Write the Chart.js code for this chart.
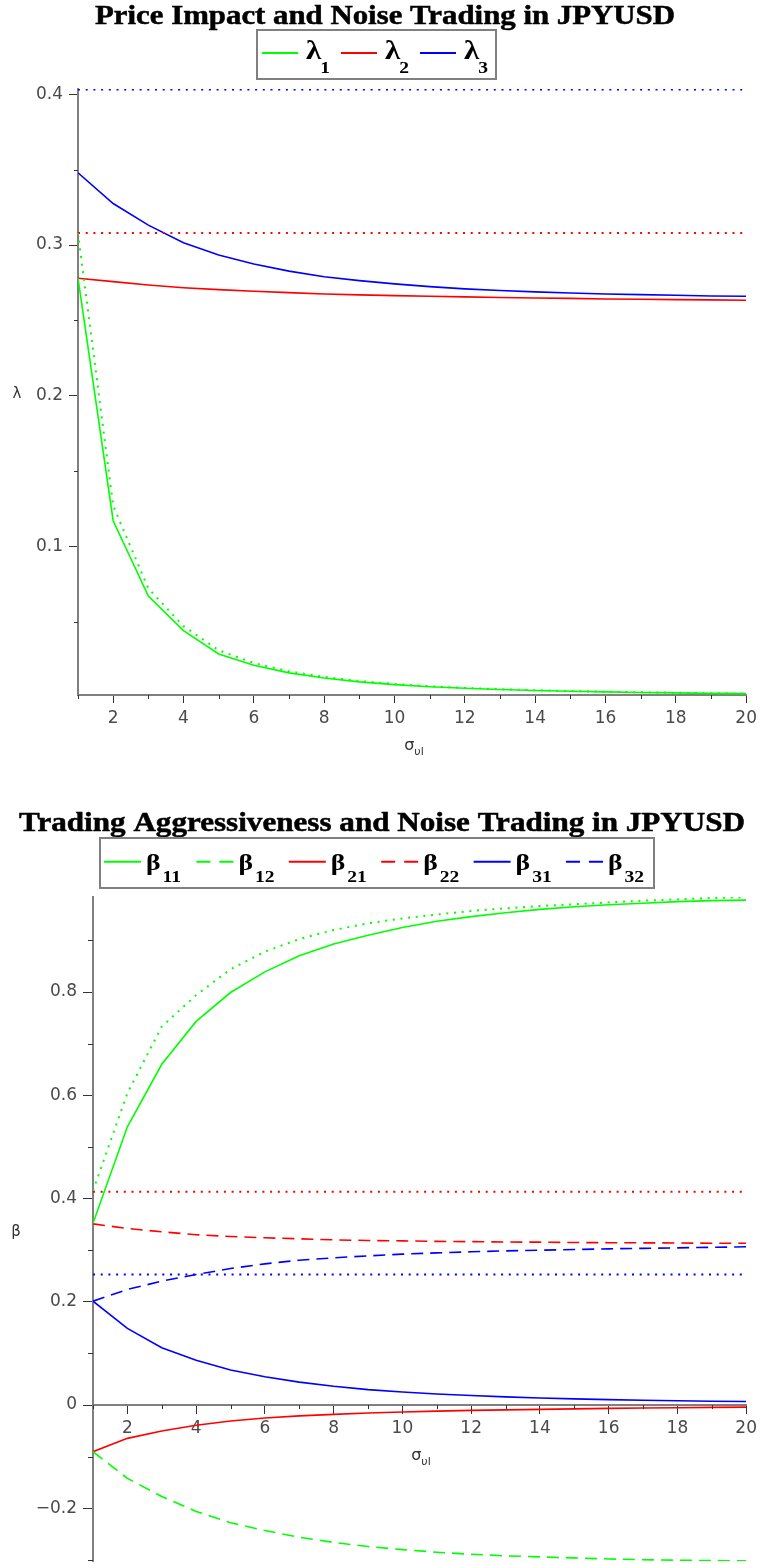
<!DOCTYPE html>
<html><head><meta charset="utf-8">
<script src="https://cdn.jsdelivr.net/npm/chart.js@4.4.1/dist/chart.umd.min.js"></script>
<style>
html,body{margin:0;padding:0;background:#fff;}
#wrap{position:relative;width:762px;height:1564px;overflow:hidden;}
.box{position:absolute;left:0;width:762px;}
</style></head><body>
<div id="wrap">
<div class="box" style="top:0;height:780px"><canvas id="c1" width="762" height="780"></canvas></div>
<div class="box" style="top:780px;height:784px"><canvas id="c2" width="762" height="784"></canvas></div>
</div>
<script>
// ---------- data ----------
const sigma = [1,2,3,4,5,6,7,8,9,10,11,12,13,14,15,16,17,18,19,20];
const xTickValues = [1,2,3,4,5,6,7,8,9,10,11,12,13,14,15,16,17,18,19,20];
const xTickLabels = ['','2','','4','','6','','8','','10','','12','','14','','16','','18','','20'];

// Chart 1: price impact
const lambda1 = [0.278,0.117,0.067,0.044,0.0285,0.021,0.016,0.0126,0.0100,0.0082,0.0068,0.0058,0.0050,0.0043,0.0038,0.0034,0.0030,0.0027,0.0024,0.0022];
const lambda1Dotted = [0.308,0.127,0.072,0.047,0.031,0.0225,0.017,0.0133,0.0106,0.0086,0.0071,0.0060,0.0051,0.0045,0.0039,0.0035,0.0031,0.0028,0.0025,0.0023];
const lambda2 = [0.278,0.2757,0.2735,0.2717,0.2704,0.2693,0.2684,0.2675,0.2669,0.2664,0.2660,0.2656,0.2652,0.2649,0.2646,0.2642,0.2640,0.2638,0.2636,0.2634];
const lambda3 = [0.348,0.3276,0.3132,0.3015,0.2934,0.2874,0.2827,0.2790,0.2764,0.2742,0.2724,0.2709,0.2698,0.2689,0.2682,0.2675,0.2671,0.2667,0.2662,0.2660];
const lambda2Level = 0.308;
const lambda3Level = 0.4033;
const lambdaTickValues = [0.05,0.1,0.15,0.2,0.25,0.3,0.35,0.4];
const lambdaTickLabels = ['','0.1','','0.2','','0.3','','0.4'];
const lambdaAxisMin = 0.0013, lambdaAxisMax = 0.4036;

// Chart 2: trading aggressiveness
const beta11 = [0.352,0.539,0.660,0.743,0.799,0.839,0.870,0.893,0.910,0.925,0.937,0.946,0.9535,0.960,0.965,0.969,0.972,0.975,0.977,0.978];
const beta11Dotted = [0.415,0.604,0.733,0.794,0.844,0.878,0.9026,0.920,0.933,0.9426,0.950,0.957,0.962,0.9665,0.970,0.9735,0.9768,0.9794,0.982,0.9835];
const beta12 = [-0.0903,-0.142,-0.177,-0.206,-0.228,-0.243,-0.256,-0.266,-0.274,-0.280,-0.285,-0.289,-0.292,-0.294,-0.296,-0.298,-0.2995,-0.3005,-0.3012,-0.3018];
const beta21 = [-0.0903,-0.0645,-0.0503,-0.039,-0.031,-0.025,-0.021,-0.018,-0.0155,-0.0135,-0.0118,-0.0103,-0.0093,-0.0084,-0.0074,-0.0065,-0.0058,-0.0052,-0.0045,-0.0039];
const beta22 = [0.351,0.342,0.3355,0.330,0.3265,0.324,0.322,0.320,0.3187,0.318,0.317,0.3165,0.3158,0.3155,0.3148,0.3145,0.3142,0.3139,0.3135,0.3135];
const beta31 = [0.2013,0.1484,0.111,0.0870,0.0680,0.0548,0.0445,0.0365,0.0300,0.0254,0.0215,0.0184,0.0158,0.0138,0.0120,0.0106,0.0094,0.0083,0.0075,0.0068];
const beta32 = [0.2013,0.2239,0.240,0.2529,0.2645,0.2735,0.2806,0.2852,0.289,0.2923,0.2948,0.2968,0.2987,0.300,0.3013,0.3026,0.3035,0.3045,0.3055,0.3065];
const beta2Level = 0.413;
const beta3Level = 0.253;
const betaTickValues = [-0.3,-0.2,-0.1,0,0.1,0.2,0.3,0.4,0.5,0.6,0.7,0.8,0.9];
const betaTickLabels = ['','\u22120.2','','0','','0.2','','0.4','','0.6','','0.8',''];
const betaAxisMin = -0.302, betaAxisMax = 0.984;

// ---------- helpers ----------
const GREEN = '#00ff00', RED = '#ff0000', BLUE = '#0000ff';
const DOT = [2, 5.7], DASH = [12, 7];
function pts(arr){ return sigma.map((s,i)=>({x:s, y:arr[i]})); }
function level(v){ return [{x:sigma[0], y:v},{x:sigma[sigma.length-1], y:v}]; }
function ds(arr, color, dash, w){
  return {data: arr, borderColor: color, borderWidth: w||1.6, borderDash: dash||[],
          pointRadius: 0, tension: 0, fill: false, borderCapStyle: 'butt'};
}
function stretchText(ctx, text, x, y, font, sx, align){
  ctx.save();
  ctx.font = font;
  const w = ctx.measureText(text).width * sx;
  let ox = x;
  if (align === 'center') ox = x - w/2;
  ctx.translate(ox, y); ctx.scale(sx, 1);
  ctx.textAlign = 'left'; ctx.textBaseline = 'alphabetic';
  ctx.fillText(text, 0, 0);
  ctx.restore();
  return w;
}

const decor = {
  id: 'decor',
  afterDraw(chart, args, o) {
    const ctx = chart.ctx;
    const xs = chart.scales.x, ys = chart.scales.y;
    ctx.save();
    // minor ticks
    ctx.strokeStyle = '#333'; ctx.lineWidth = 1;
    const axisY = (o.xAxisAt !== undefined) ? ys.getPixelForValue(o.xAxisAt) : chart.chartArea.bottom;
    xTickLabels.forEach((lab, i) => {
      if (lab !== '') return;
      const px = Math.round(xs.getPixelForValue(xTickValues[i])) + 0.5;
      ctx.beginPath(); ctx.moveTo(px, axisY); ctx.lineTo(px, axisY + o.xMinor); ctx.stroke();
    });
    const left = chart.chartArea.left;
    o.yLabels.forEach((lab, i) => {
      if (lab !== '') return;
      const py = Math.round(ys.getPixelForValue(o.yValues[i])) + 0.5;
      ctx.beginPath(); ctx.moveTo(left - o.yMinor, py); ctx.lineTo(left, py); ctx.stroke();
    });
    // title
    ctx.fillStyle = '#000';
    ctx.font = o.title.font;
    const tw = ctx.measureText(o.title.text).width;
    ctx.save();
    ctx.translate(o.title.cx - o.title.width/2, o.title.base);
    ctx.scale(o.title.width / tw, 1);
    ctx.textAlign = 'left'; ctx.textBaseline = 'alphabetic';
    ctx.fillText(o.title.text, 0, 0);
    ctx.strokeStyle = '#000'; ctx.lineWidth = 0.5;
    ctx.strokeText(o.title.text, 0, 0);
    ctx.restore();
    // legend box
    const L = o.legend;
    ctx.fillStyle = '#fff';
    ctx.fillRect(L.box[0], L.box[1], L.box[2], L.box[3]);
    ctx.strokeStyle = '#808080'; ctx.lineWidth = 2;
    ctx.strokeRect(L.box[0], L.box[1], L.box[2], L.box[3]);
    L.items.forEach((it, i) => {
      const sx0 = L.x0 + i * L.pitch;
      ctx.strokeStyle = it.color; ctx.lineWidth = 2;
      ctx.setLineDash(it.dash);
      ctx.beginPath(); ctx.moveTo(sx0, L.sampleY); ctx.lineTo(sx0 + L.len, L.sampleY); ctx.stroke();
      ctx.setLineDash([]);
      ctx.fillStyle = '#000';
      const gx = sx0 + L.greekDx;
      const gw = stretchText(ctx, it.greek, gx, L.greekBase, L.greekFont, L.sx, 'left');
      stretchText(ctx, it.sub, gx + gw + L.subGap, L.subBase, L.subFont, L.sx, 'left');
    });
    // axis titles
    ctx.fillStyle = '#333';
    ctx.font = '15px "DejaVu Sans"';
    ctx.textAlign = 'center'; ctx.textBaseline = 'middle';
    ctx.fillText(o.yTitle.text, o.yTitle.x, o.yTitle.y);
    ctx.textBaseline = 'alphabetic';
    ctx.font = '16px "DejaVu Sans"';
    ctx.textAlign = 'left';
    const s1 = ctx.measureText('\u03c3').width;
    ctx.font = '11px "DejaVu Sans"';
    const s2 = ctx.measureText('\u03c5l').width;
    const sx = o.xTitle.cx - (s1 + s2)/2;
    const sb = axisY + o.xTitle.dy;
    ctx.font = '16px "DejaVu Sans"';
    ctx.fillText('\u03c3', sx, sb);
    ctx.font = '11px "DejaVu Sans"';
    ctx.fillText('\u03c5l', sx + s1, sb + 5);
    ctx.restore();
  }
};

function axisX(opts){
  return Object.assign({
    type: 'linear', min: 1, max: 20,
    afterBuildTicks: s => { s.ticks = xTickValues.map(v => ({value: v})); },
    ticks: { autoSkip: false, maxRotation: 0, minRotation: 0, padding: 5,
             color: '#4a4a4a', font: {family: 'DejaVu Sans', size: 17},
             callback: (v, i) => xTickLabels[i] },
    grid: { drawOnChartArea: false, tickLength: 8, tickWidth: 1,
            tickColor: c => xTickLabels[c.index] !== '' ? '#333' : 'rgba(0,0,0,0)' },
    border: { color: '#808080', width: 2 }
  }, opts);
}
function axisY(values, labels, min, max, width, tl){
  return {
    type: 'linear', min: min, max: max,
    afterFit: s => { s.width = width; s.paddingTop = 0; s.paddingBottom = 0; },
    afterBuildTicks: s => { s.ticks = values.map(v => ({value: v})); },
    ticks: { autoSkip: false, padding: 6, color: '#4a4a4a',
             font: {family: 'DejaVu Sans', size: 17},
             callback: (v, i) => labels[i] },
    grid: { drawOnChartArea: false, tickLength: tl, tickWidth: 1,
            tickColor: c => labels[c.index] !== '' ? '#333' : 'rgba(0,0,0,0)' },
    border: { color: '#808080', width: 2 }
  };
}

Chart.register(decor);

new Chart(document.getElementById('c1'), {
  type: 'line',
  data: { datasets: [
    ds(pts(lambda1Dotted), GREEN, DOT, 2),
    ds(level(lambda2Level), RED, DOT, 2),
    ds(level(lambda3Level), BLUE, DOT, 2),
    ds(pts(lambda1), GREEN),
    ds(pts(lambda2), RED),
    ds(pts(lambda3), BLUE)
  ]},
  options: {
    responsive: false, animation: false, devicePixelRatio: 1,
    layout: { padding: { left: 0, right: 12, top: 89, bottom: 45 } },
    scales: {
      x: axisX({ position: 'bottom', afterFit: s => { s.height = 40; } }),
      y: axisY(lambdaTickValues, lambdaTickLabels, lambdaAxisMin, lambdaAxisMax, 78, 9)
    },
    plugins: {
      legend: { display: false }, tooltip: { enabled: false },
      decor: {
        xMinor: 4, yMinor: 4, yValues: lambdaTickValues, yLabels: lambdaTickLabels,
        title: { text: 'Price Impact and Noise Trading in JPYUSD', font: 'bold 27px "Liberation Serif"', cx: 385, base: 24, width: 580 },
        legend: { box: [257, 30, 239, 49], x0: 262, pitch: 79, len: 36, sampleY: 53,
                  greekDx: 44, greekBase: 59, subBase: 73, subGap: -1, sx: 1.15,
                  greekFont: 'bold 27px "Liberation Serif"', subFont: 'bold 17px "Liberation Serif"',
                  items: [
                    {color: GREEN, dash: [], greek: '\u03bb', sub: '1'},
                    {color: RED, dash: [], greek: '\u03bb', sub: '2'},
                    {color: BLUE, dash: [], greek: '\u03bb', sub: '3'}
                  ] },
        yTitle: { text: '\u03bb', x: 17, y: 394 },
        xTitle: { cx: 414, dy: 55 }
      }
    }
  }
});

new Chart(document.getElementById('c2'), {
  type: 'line',
  data: { datasets: [
    ds(pts(beta11Dotted), GREEN, DOT, 2),
    ds(level(beta2Level), RED, DOT, 2),
    ds(level(beta3Level), BLUE, DOT, 2),
    ds(pts(beta11), GREEN),
    ds(pts(beta12), GREEN, DASH),
    ds(pts(beta21), RED),
    ds(pts(beta22), RED, DASH),
    ds(pts(beta31), BLUE),
    ds(pts(beta32), BLUE, DASH)
  ]},
  options: {
    responsive: false, animation: false, devicePixelRatio: 1,
    layout: { padding: { left: 0, right: 12, top: 117, bottom: 3 } },
    scales: {
      x: axisX({ position: { y: 0 }, afterFit: s => { s.height = 0; } }),
      y: axisY(betaTickValues, betaTickLabels, betaAxisMin, betaAxisMax, 93, 10)
    },
    plugins: {
      legend: { display: false }, tooltip: { enabled: false },
      decor: {
        xAxisAt: 0, xMinor: 4, yMinor: 5, yValues: betaTickValues, yLabels: betaTickLabels,
        title: { text: 'Trading Aggressiveness and Noise Trading in JPYUSD', font: 'bold 27px "Liberation Serif"', cx: 382, base: 51, width: 726 },
        legend: { box: [100, 58, 554, 50], x0: 104, pitch: 92.4, len: 37, sampleY: 81.7,
                  greekDx: 42, greekBase: 90, subBase: 101.7, subGap: 2, sx: 1.15,
                  greekFont: 'bold 24px "Liberation Serif"', subFont: 'bold 17px "Liberation Serif"',
                  items: [
                    {color: GREEN, dash: [], greek: '\u03b2', sub: '11'},
                    {color: GREEN, dash: [14, 9], greek: '\u03b2', sub: '12'},
                    {color: RED, dash: [], greek: '\u03b2', sub: '21'},
                    {color: RED, dash: [14, 9], greek: '\u03b2', sub: '22'},
                    {color: BLUE, dash: [], greek: '\u03b2', sub: '31'},
                    {color: BLUE, dash: [14, 9], greek: '\u03b2', sub: '32'}
                  ] },
        yTitle: { text: '\u03b2', x: 16, y: 452 },
        xTitle: { cx: 421, dy: 55 }
      }
    }
  }
});
</script>
</body></html>
